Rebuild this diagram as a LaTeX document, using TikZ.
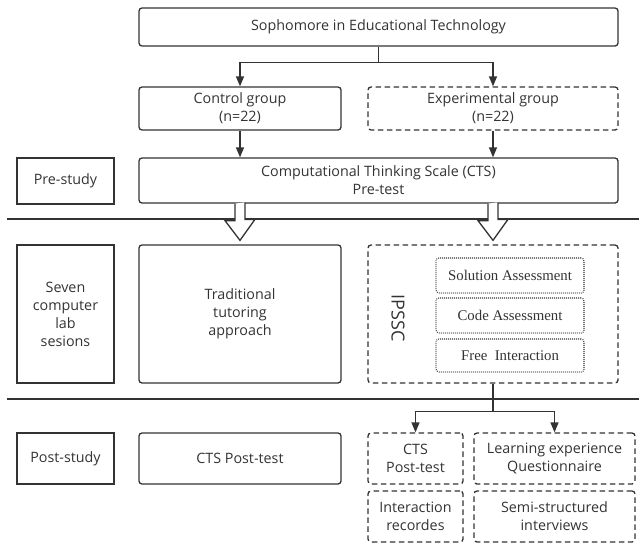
\documentclass[tikz,border=0pt]{standalone}
\usepackage{fontspec}
\setmainfont{Open Sans}
\newfontfamily\serifbox{Liberation Serif}
\usetikzlibrary{arrows.meta}
\definecolor{ink}{HTML}{333333}
\begin{document}
\begin{tikzpicture}[x=1pt,y=-1pt,
  every node/.style={inner sep=0pt, align=center, text=ink, font=\fontsize{14.3}{18}\selectfont},
  sqbox/.style={draw=ink, line width=1.3pt},
  rbox/.style={draw=ink, line width=1.3pt, rounded corners=3pt},
  dbox/.style={rbox, dash pattern=on 5.5pt off 3.5pt},
  dotbox/.style={draw=ink, line width=1.1pt, rounded corners=3pt, dash pattern=on 0.8pt off 1.2pt,
     font=\serifbox\fontsize{14.8}{18}\selectfont, minimum width=148pt},
  arr/.style={draw=ink, line width=1.3pt, -{Triangle[length=10pt,width=8pt]}},
  conn/.style={draw=ink, line width=1.3pt},
  hollow/.style={draw=ink, line width=1.3pt, fill=white, line join=miter},
  sep/.style={draw=ink, line width=1.4pt}]
\useasboundingbox (0,0) rectangle (639,544);

% row 1
\node[rbox, minimum width=479pt, minimum height=38pt] (top) at (378.5,27) {Sophomore in Educational Technology};
\node[rbox, minimum width=202pt, minimum height=43pt] (ctrl) at (240,108.5) {Control group\\(n=22)};
\node[dbox, minimum width=250pt, minimum height=43pt] (exp) at (493,108.5) {Experimental group\\(n=22)};
\node[rbox, minimum width=479pt, minimum height=45pt] (cts) at (378.5,180.5) {Computational Thinking Scale (CTS)\\Pre-test};
\node[sqbox, minimum width=97pt, minimum height=46pt] (pre) at (65.5,181) {Pre-study};

% separators
\coordinate (s1a) at (7,219); \coordinate (s1b) at (639,219);
\coordinate (s2a) at (7,399); \coordinate (s2b) at (639,399);
\draw[sep] (s1a) -- (s1b);
\draw[sep] (s2a) -- (s2b);

% row 2
\node[sqbox, minimum width=97pt, minimum height=138pt] (seven) at (65.5,314) {Seven\\computer\\lab\\sesions};
\node[rbox, minimum width=202pt, minimum height=138pt] (trad) at (240,314) {Traditional\\tutoring\\approach};
\node[dbox, minimum width=250pt, minimum height=138pt] (ipssc) at (493,314) {};
\node[rotate=-90, font=\fontsize{18}{20}\selectfont] (ipl) at (398,318) {IPSSC};
\node[dotbox, minimum height=35pt] (sol) at (510,275.5) {Solution Assessment};
\node[dotbox, minimum height=35pt] (code) at (510,315.5) {Code Assessment};
\node[dotbox, minimum height=33pt] (free) at (510,355.5) {Free\ \ Interaction};

% row 3
\node[sqbox, minimum width=97pt, minimum height=51pt] (post) at (65.5,458.5) {Post-study};
\node[rbox, minimum width=202pt, minimum height=51pt] (ctspost) at (240,458.5) {CTS Post-test};
\node[dbox, minimum width=95pt, minimum height=51pt] (ctsp2) at (415.5,458.5) {CTS\\Post-test};
\node[dbox, minimum width=161pt, minimum height=51pt] (learn) at (554.5,458.5) {Learning experience\\Questionnaire};
\node[dbox, minimum width=95pt, minimum height=51pt] (inter) at (415.5,516.5) {Interaction\\recordes};
\node[dbox, minimum width=161pt, minimum height=51pt] (semi) at (554.5,516.5) {Semi-structured\\interviews};

% connectors
\draw[conn] (top.south) -- ++(0,16) coordinate (b1);
\draw[arr] (b1) -| (ctrl.north);
\draw[arr] (b1) -| (exp.north);
\draw[arr] (ctrl.south) -- (ctrl.south |- cts.north);
\draw[arr] (exp.south) -- (exp.south |- cts.north);

\draw[hollow] (cts.south -| trad.north) ++(-5,0) -- ++(0,17) -- ++(-10,0) -- ([yshift=4pt]trad.north) -- ++(15,-21) -- ++(-10,0) -- ++(0,-17);
\draw[hollow] (cts.south -| ipssc.north) ++(-5,0) -- ++(0,17) -- ++(-10,0) -- ([yshift=4pt]ipssc.north) -- ++(15,-21) -- ++(-10,0) -- ++(0,-17);

\draw[conn] (ipssc.south) -- ++(0,28) coordinate (b2);
\draw[arr] (b2) -| (ctsp2.north);
\draw[arr] (b2) -| (learn.north);
\end{tikzpicture}
\end{document}
